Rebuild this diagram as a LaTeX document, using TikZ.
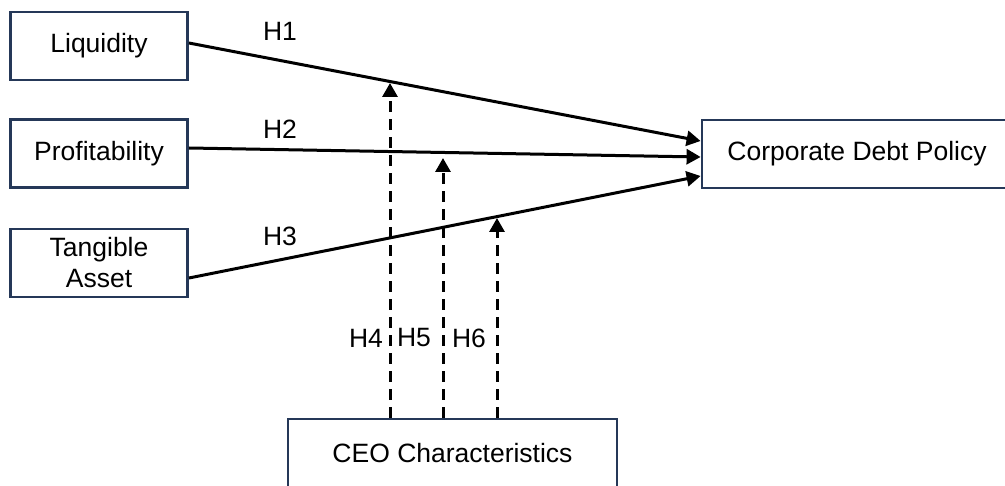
\documentclass[tikz,border=0pt]{standalone}
\usepackage{fontspec}
\setmainfont{Liberation Sans}
\usetikzlibrary{arrows.meta}
\definecolor{boxnavy}{RGB}{37,56,88}

\begin{document}
\begin{tikzpicture}[x=1pt, y=-1pt,
  var/.style={rectangle, draw=boxnavy, line width=2.8pt, fill=white, align=center, font=\fontsize{26.5}{31}\selectfont, minimum height=68pt, inner sep=0pt},
  lbl/.style={font=\fontsize{26.5}{31}\selectfont, inner sep=0pt},
  hyp/.style={line width=3pt, -{Triangle[length=14pt,width=15pt]}},
  moder/.style={line width=3pt, dash pattern=on 11pt off 7pt, -{Triangle[length=14pt,width=15pt]}},
]
\useasboundingbox (0,0) rectangle (1005,486);

% === Independent variables ===
\node[var, minimum width=177pt] (liq) at (99,46) {Liquidity};
\node[var, minimum width=177pt] (prof) at (99,153.5) {Profitability};
\node[var, minimum width=177pt] (tang) at (99,263) {Tangible\\Asset};

% === Dependent and moderating variables ===
\node[var, minimum width=310pt] (cdp) at (857,154) {Corporate Debt Policy};
\node[var, minimum width=329pt] (ceo) at (452.5,453) {CEO Characteristics};

% === Direct paths ===
\draw[hyp] ([yshift=3pt]liq.east) -- ([yshift=13pt]cdp.west);
\draw[hyp] ([yshift=5.5pt]prof.east) -- ([yshift=-3pt]cdp.west);
\draw[hyp] ([yshift=-15pt]tang.east) -- ([yshift=-22pt]cdp.west);

% === Moderating paths ===
\coordinate (t1) at (390,83);
\coordinate (t2) at (443,158);
\coordinate (t3) at (497,218);
\draw[moder] (ceo.north -| t1) -- (t1);
\draw[moder] (ceo.north -| t2) -- (t2);
\draw[moder] (ceo.north -| t3) -- (t3);

% === Hypothesis labels ===
\node[lbl] (h1) at (280,31) {H1};
\node[lbl] (h2) at (280,129) {H2};
\node[lbl] (h3) at (280,236) {H3};
\node[lbl] (h4) at (366,338) {H4};
\node[lbl] (h5) at (414,338) {H5};
\node[lbl] (h6) at (469,338) {H6};

\end{tikzpicture}
\end{document}
